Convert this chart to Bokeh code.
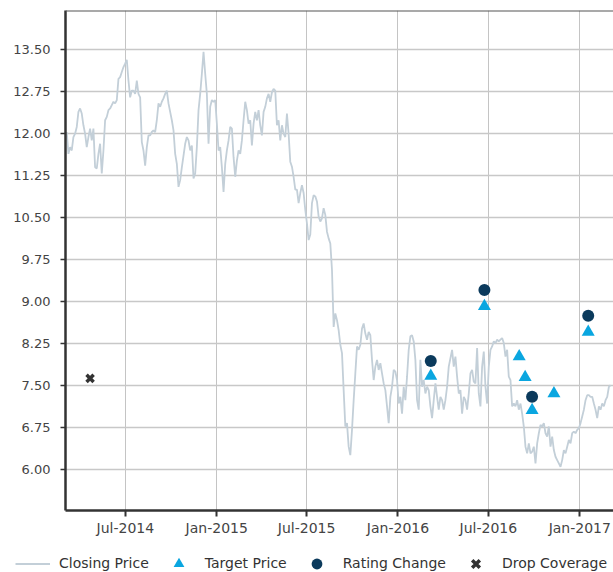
import pandas as pd
from bokeh.plotting import figure
from bokeh.layouts import column
from bokeh.models import (FixedTicker, DatetimeTickFormatter, PrintfTickFormatter,
                          Legend, LegendItem, Range1d, Span)
from bokeh.embed import file_html
from bokeh.resources import INLINE

# ---------------- data ----------------
price_start = "2014-03-05"
price_end = "2017-03-04"
closing_price = [
    12.03, 11.64, 11.76, 11.70, 11.94, 12.00, 12.12, 12.39, 12.45, 12.36,
    12.15, 12.00, 11.76, 11.94, 12.09, 11.88, 12.09, 11.40, 11.38, 11.64,
    11.82, 11.29, 11.70, 12.24, 12.30, 12.42, 12.45, 12.51, 12.57, 12.54,
    12.60, 12.98, 13.01, 13.10, 13.19, 13.25, 13.32, 12.95, 12.65, 12.77,
    12.77, 12.71, 12.95, 12.71, 12.65, 11.85, 11.70, 11.43, 11.76, 11.97,
    11.97, 12.03, 12.06, 12.03, 12.24, 12.54, 12.48, 12.57, 12.63, 12.71,
    12.77, 12.54, 12.39, 12.24, 12.06, 11.64, 11.46, 11.05, 11.17, 11.40,
    11.61, 11.82, 11.94, 11.88,
    11.70, 11.79, 11.20, 11.29, 11.76, 12.42, 12.71, 13.07, 13.46, 13.07,
    12.71, 11.82, 12.48, 12.60, 12.57, 12.60, 12.18, 11.70, 11.76, 11.40,
    10.96, 11.46, 11.70, 11.88, 12.12, 12.09, 11.58, 11.23, 11.52, 11.70,
    11.64, 11.88, 12.24, 12.57, 12.42, 12.18, 12.24, 11.79, 12.18, 12.39,
    12.24, 12.42, 12.15, 11.97, 12.39, 12.48, 12.63, 12.71, 12.57, 12.74,
    12.80, 12.77, 12.15, 12.24, 11.88, 12.15, 12.00, 11.94, 12.36, 12.00,
    11.50, 11.41, 11.23, 11.00, 11.00, 10.76, 10.94, 11.08, 10.94, 10.64,
    10.40, 10.10,
    10.20, 10.76, 10.90, 10.88, 10.79, 10.52, 10.43, 10.49, 10.67, 10.55,
    10.25, 10.13, 10.04, 9.57, 8.55, 8.79, 8.67, 8.49, 8.23, 8.08,
    7.42, 6.77, 6.83, 6.41, 6.26, 6.71, 7.24, 7.72, 8.20, 8.14,
    8.23, 8.52, 8.61, 8.43, 8.32, 8.46, 8.40, 7.96, 7.60, 7.84,
    7.96, 7.78, 7.90, 7.72, 7.54, 7.42, 7.13, 6.83, 7.30, 7.48,
    7.78, 7.75, 7.60,
    7.18, 7.30, 7.00, 7.48, 7.24, 7.66, 8.14, 8.38, 8.40, 8.29,
    7.96, 7.24, 7.07, 7.96, 7.48, 7.60, 7.36, 7.48, 7.42, 7.13,
    6.92, 7.24, 7.54, 7.30, 7.07, 7.30, 7.24, 7.07, 7.24, 7.48,
    7.84, 7.99, 8.14, 7.84, 8.02, 7.66, 7.36, 7.42, 7.00, 7.30,
    7.24, 7.07, 7.36, 7.72, 7.78, 7.57, 7.54, 8.17, 7.36, 7.13,
    7.84, 8.11, 7.48, 7.18, 7.84, 8.14, 8.20, 8.29, 8.26, 8.32,
    8.29, 8.32, 8.35, 8.26, 8.02, 8.14, 7.66, 7.60, 7.13, 7.18,
    7.13, 7.24, 7.07, 7.18, 7.00, 6.77, 6.41, 6.29, 6.47, 6.29,
    6.32, 6.41, 6.11, 6.47, 6.65, 6.80, 6.77, 6.83, 6.65, 6.59,
    6.77, 6.41, 6.59, 6.35, 6.23, 6.17, 6.11, 6.05, 6.17, 6.35,
    6.29, 6.41, 6.53, 6.47, 6.65, 6.68, 6.65, 6.71, 6.74, 6.83,
    6.95, 7.07, 7.24, 7.33, 7.33, 7.30, 7.30, 7.18, 7.07, 6.92,
    7.13, 7.07, 7.18, 7.13, 7.24, 7.30, 7.48, 7.51,
]

target_dates = ["2016-03-07", "2016-06-23", "2016-09-01", "2016-09-13",
                "2016-09-27", "2016-11-10", "2017-01-18"]
target_prices = [7.67, 8.92, 8.02, 7.65, 7.06, 7.36, 8.46]

rating_dates = ["2016-03-07", "2016-06-23", "2016-09-27", "2017-01-18"]
rating_prices = [7.94, 9.21, 7.30, 8.75]

drop_dates = ["2014-04-21"]
drop_prices = [7.63]

x_tick_dates = ["2014-07-01", "2015-01-01", "2015-07-01",
                "2016-01-01", "2016-07-01", "2017-01-01"]
y_ticks = [6.00, 6.75, 7.50, 8.25, 9.00, 9.75, 10.50, 11.25, 12.00, 12.75, 13.50]

legend_labels = ["Closing Price", "Target Price", "Rating Change", "Drop Coverage"]

# ---------------- styles ----------------
FONT = "DejaVu Sans"
LINE_COLOR = "#c3cfd8"
TRI_COLOR = "#0aa6e0"
CIRC_COLOR = "#0b3a5c"
X_COLOR = "#333333"
y_lo, y_hi = 5.27, 14.20

price_dates = pd.date_range(price_start, price_end, periods=len(closing_price))

p = figure(width=613, height=542, x_axis_type="datetime",
           x_range=Range1d(pd.Timestamp("2014-03-02 12:00"), pd.Timestamp("2017-03-09 22:00")),
           y_range=Range1d(y_lo, y_hi),
           output_backend="svg", toolbar_location=None,
           min_border_left=65, min_border_right=0, min_border_top=10, min_border_bottom=32)
p.outline_line_color = None
p.frame_align = False

p.line(price_dates, closing_price, line_color=LINE_COLOR, line_width=1.8)
p.scatter(pd.to_datetime(target_dates), target_prices, marker="triangle", size=13,
          fill_color=TRI_COLOR, line_color=None)
p.scatter(pd.to_datetime(rating_dates), rating_prices, marker="circle", size=12,
          fill_color=CIRC_COLOR, line_color=None)
p.scatter(pd.to_datetime(drop_dates), drop_prices, marker="x", size=10,
          line_color=X_COLOR, line_width=3.5)

# axes
yax = p.yaxis[0]
yax.ticker = FixedTicker(ticks=y_ticks)
yax.formatter = PrintfTickFormatter(format="%.2f")
yax.major_label_text_font = FONT
yax.major_label_text_font_size = "13px"
yax.major_label_text_color = "#444444"
yax.axis_line_color = "#333333"
yax.axis_line_width = 2.5
yax.major_tick_line_color = "#333333"
yax.major_tick_line_width = 1.5
yax.major_tick_out = 5
yax.major_tick_in = 0
yax.minor_tick_line_color = None
yax.major_label_standoff = 10

xax = p.xaxis[0]
xax.ticker = FixedTicker(ticks=[pd.Timestamp(d).value / 1e6 for d in x_tick_dates])
fmt = "%b-%Y"
xax.formatter = DatetimeTickFormatter(days=fmt, months=fmt, years=fmt, hours=fmt,
                                      minutes=fmt, seconds=fmt, milliseconds=fmt,
                                      microseconds=fmt, minsec=fmt, hourmin=fmt)
xax.major_label_text_font = FONT
xax.major_label_text_font_size = "14px"
xax.major_label_text_color = "#444444"
xax.axis_line_color = "#333333"
xax.axis_line_width = 2.5
xax.major_tick_line_color = "#333333"
xax.major_tick_line_width = 2
xax.major_tick_out = 6
xax.major_tick_in = 0
xax.minor_tick_line_color = None
xax.major_label_standoff = 3

p.xgrid.grid_line_color = "#c4c4c4"
p.ygrid.grid_line_color = "#c8c8c8"
p.xgrid.grid_line_width = 1
p.ygrid.grid_line_width = 1.3

p.add_layout(Span(location=y_hi, dimension="width", line_color="#555555", line_width=2))

# ---------------- legend strip ----------------
lg = figure(width=613, height=30, x_range=Range1d(0, 1), y_range=Range1d(0, 1),
            x_axis_location=None, y_axis_location=None,
            output_backend="svg", toolbar_location=None,
            min_border_left=0, min_border_right=0, min_border_top=0, min_border_bottom=0)
lg.grid.visible = False
lg.outline_line_color = None
lg.frame_align = False

# legend-only renderers: their single point lies outside the visible range
off = [-5]
l_line = lg.line(off, off, line_color=LINE_COLOR, line_width=1.8)
l_tri = lg.scatter(off, off, marker="triangle", size=13, fill_color=TRI_COLOR, line_color=None)
l_circ = lg.scatter(off, off, marker="circle", size=12, fill_color=CIRC_COLOR, line_color=None)
l_x = lg.scatter(off, off, marker="x", size=10, line_color=X_COLOR, line_width=3.5)

legend = Legend(items=[LegendItem(label=legend_labels[0], renderers=[l_line]),
                       LegendItem(label=legend_labels[1], renderers=[l_tri]),
                       LegendItem(label=legend_labels[2], renderers=[l_circ]),
                       LegendItem(label=legend_labels[3], renderers=[l_x])],
                orientation="horizontal", location=(15, -4.5),
                glyph_width=35, glyph_height=27, label_height=17, label_standoff=9, spacing=12,
                padding=0, margin=0, border_line_color=None, background_fill_alpha=0,
                label_text_font=FONT, label_text_font_size="14px",
                label_text_color="#333333")
lg.add_layout(legend, "center")

layout = column(p, lg, spacing=0)
open("out.html", "w").write(file_html(layout, INLINE))
